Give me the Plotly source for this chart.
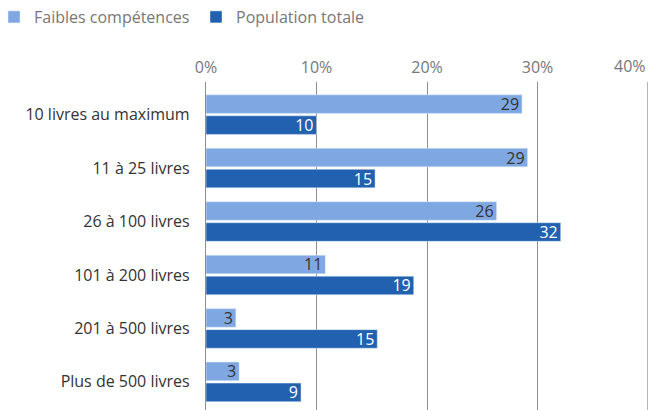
import plotly.graph_objects as go

categories = ["10 livres au maximum", "11 à 25 livres", "26 à 100 livres",
              "101 à 200 livres", "201 à 500 livres", "Plus de 500 livres"]
faibles = [28.6, 29.1, 26.3, 10.8, 2.7, 3.0]
population = [10.0, 15.3, 32.1, 18.8, 15.5, 8.6]
faibles_labels = ["29", "29", "26", "11", "3", "3"]
population_labels = ["10", "15", "32", "19", "15", "9"]
x_ticks = [0, 10, 20, 30, 40]

FONT = "Open Sans"
FS = 16
GRID = "#8e8e8e"

fig = go.Figure()
fig.add_trace(go.Bar(
    y=categories, x=faibles, orientation="h", name="Faibles compétences",
    marker=dict(color="#7FA8E3"), text=faibles_labels, textposition="inside",
    insidetextanchor="end", textangle=0,
    textfont=dict(color="#333333", size=FS, family=FONT),
))
fig.add_trace(go.Bar(
    y=categories, x=population, orientation="h", name="Population totale",
    marker=dict(color="#2161B0"), text=population_labels, textposition="inside",
    insidetextanchor="end", textangle=0,
    textfont=dict(color="#ffffff", size=FS, family=FONT),
))

tick_text = [f"{v}%" for v in x_ticks]
tick_text[-1] = ""

fig.update_layout(
    width=650, height=410,
    margin=dict(l=206, r=2, t=82, b=0),
    paper_bgcolor="white", plot_bgcolor="white",
    barmode="group", bargap=0.214, bargroupgap=0.114,
    font=dict(family=FONT, size=FS, color="#333333"),
    uniformtext=dict(minsize=10, mode="show"),
    legend=dict(orientation="h", x=0, xanchor="left", xref="container",
                y=1, yanchor="top", yref="container",
                font=dict(color="#777777", size=FS, family=FONT),
                entrywidth=163, entrywidthmode="pixels", indentation=-6,
                traceorder="normal"),
    xaxis=dict(side="top", range=[0, 40], tickvals=x_ticks,
               ticktext=tick_text,
               showgrid=True, gridcolor=GRID, gridwidth=1.3,
               zeroline=False, showline=False,
               tickfont=dict(color="#777777", size=FS, family=FONT),
               ticks="outside", ticklen=2, tickcolor="white", fixedrange=True),
    yaxis=dict(range=[5.526, -0.61], showgrid=False, zeroline=False,
               showline=True, linecolor=GRID, linewidth=1.3,
               tickfont=dict(color="#333333", size=FS, family=FONT),
               ticks="outside", ticklen=12, tickcolor="white"),
    annotations=[dict(x=x_ticks[-1], xref="x", xanchor="right", y=1, yref="paper",
                      yanchor="bottom", yshift=3, text=f"{x_ticks[-1]}%", showarrow=False,
                      font=dict(color="#777777", size=FS, family=FONT))],
    shapes=[dict(type="line", xref="x", yref="paper", x0=x_ticks[-1], x1=x_ticks[-1],
                 y0=0, y1=1, line=dict(color=GRID, width=1.3), layer="below")],
)

fig.write_html("out.html")
